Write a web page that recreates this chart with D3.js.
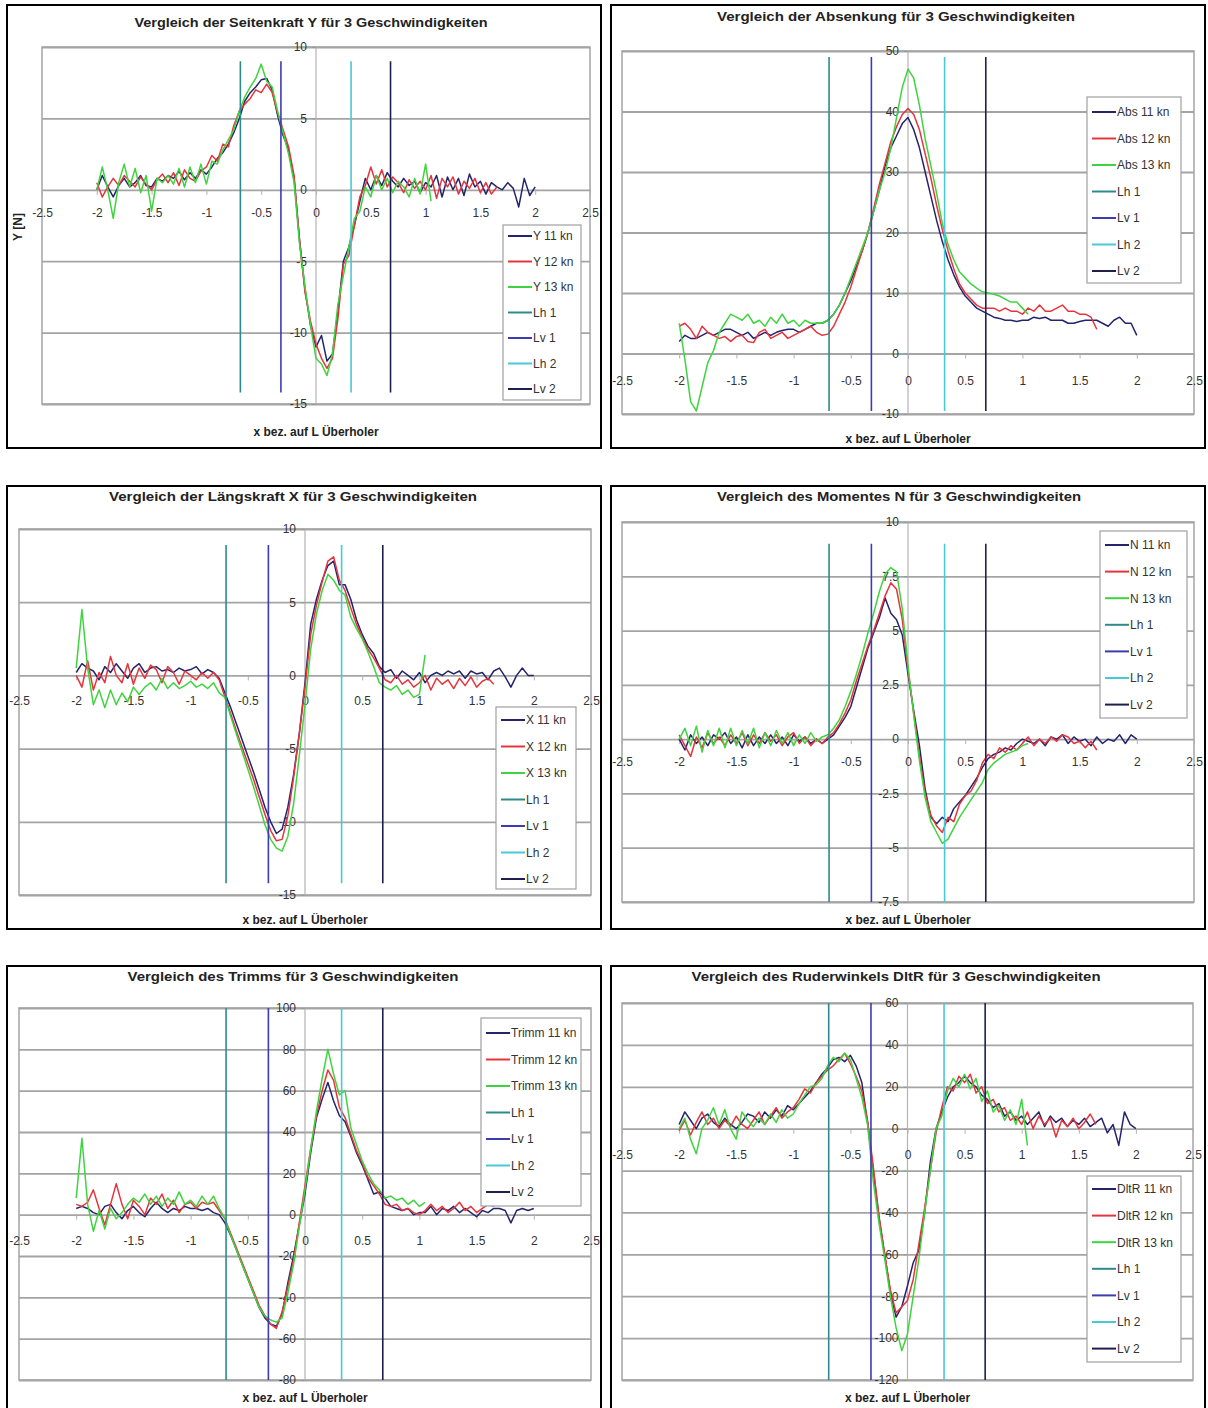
<!DOCTYPE html>
<html>
<head>
<meta charset="utf-8">
<script src="https://cdn.jsdelivr.net/npm/d3@7/dist/d3.min.js"></script>
<style>
  html, body { margin: 0; padding: 0; background: #fff; }
  svg { display: block; }
  text { font-family: "Liberation Sans", Arial, sans-serif; }
</style>
</head>
<body>
<svg id="chart" width="1208" height="1408"></svg>
<script>
// ---- shared x positions (x bez. auf L Überholer) ----
const xGrid = [
  -2.00,-1.95,-1.90,-1.85,-1.80,-1.75,-1.70,-1.65,-1.60,-1.55,
  -1.50,-1.45,-1.40,-1.35,-1.30,-1.25,-1.20,-1.15,-1.10,-1.05,
  -1.00,-0.95,-0.90,-0.85,-0.80,-0.75,-0.70,-0.65,-0.60,-0.55,
  -0.50,-0.45,-0.40,-0.35,-0.30,-0.25,-0.20,-0.15,-0.10,-0.05,
   0.00, 0.05, 0.10, 0.15, 0.20, 0.25, 0.30, 0.35, 0.40, 0.45,
   0.50, 0.55, 0.60, 0.65, 0.70, 0.75, 0.80, 0.85, 0.90, 0.95,
   1.00, 1.05, 1.10, 1.15, 1.20, 1.25, 1.30, 1.35, 1.40, 1.45,
   1.50, 1.55, 1.60, 1.65, 1.70, 1.75, 1.80, 1.85, 1.90, 1.95,
   2.00
];
const xTicks = [-2.5, -2, -1.5, -1, -0.5, 0, 0.5, 1, 1.5, 2, 2.5];

// ---- Seitenkraft Y ----
const seiteY11 = [
  0, 1.0, 0.2, -0.5, 0.3, 0.8, 0.2, 0.5, 1.0, 0.3,
  0.2, 0.8, 0.6, 1.0, 0.8, 1.3, 0.7, 1.2, 0.8, 1.4,
  1.1, 1.6, 2.2, 2.6, 3.2, 4.0, 5.0, 6.2, 6.8, 7.2,
  7.7, 7.8, 7.0, 5.2, 3.8, 2.8, 0.8, -3.5, -7.0, -9.5,
  -11.0, -10.2, -12.0, -11.5, -8.5, -5.0, -4.0, -2.5, -0.8, 0.8,
  0.0, 1.0, 0.3, 1.2, 0.6, 0.2, 0.8, 0.3, 0.6, -0.2,
  0.5, 0.2, 1.0, -0.5, 0.9, 0.0, 0.8, -0.4, 1.1, 0.2,
  0.6, -0.3, 0.5, 0.2, 0.0, 0.5, 0.1, -1.2, 0.8, -0.4,
  0.2
];
const seiteY12 = [
  0.5, -0.5, 0.2, 0.8, 0.3, 1.0, 0.6, 0.2, 0.9, 0.4,
  0.0, 0.7, 1.1, 0.5, 1.2, 0.3, 1.4, 0.8, 0.6, 1.3,
  1.6, 2.4, 2.0, 3.2, 3.0, 4.5, 5.5, 6.0, 6.4, 7.0,
  6.8, 7.4, 6.8, 5.4, 4.2, 3.0, 1.0, -3.6, -7.2, -9.2,
  -10.8, -11.8, -12.5, -11.8, -9.0, -5.2, -4.6, -2.5, -0.5, 0.3,
  1.6, 0.4, 1.4, 0.2, 0.9, 0.5, -0.2, 0.7, 0.1, 0.6,
  0.0, 1.0, -0.6, 0.8, 0.2, 0.9, -0.3, 0.6, 0.1, 0.8,
  -0.2, 0.5, -0.3, 0.2
];
const seiteY13 = [
  0.0, 1.6, 0.0, -2.0, 0.5, 1.8, 0.2, 1.5, -0.2, 1.0,
  -1.5, 0.8, 0.5, 1.0, 0.4, 1.5, 0.2, 1.6, 0.5, 1.8,
  0.4, 2.0, 1.8, 2.8, 3.5, 4.2, 5.5, 6.5, 7.2, 7.8,
  8.8, 7.6, 7.2, 5.5, 4.0, 2.5, 0.5, -3.8, -6.8, -9.5,
  -11.8, -12.2, -13.0, -11.5, -8.0, -6.0, -4.0, -2.0, -1.5, 0.2,
  -0.5, 1.0, 0.0, 0.8, -0.2, 0.6, 0.2, -0.5, 0.8, -0.3,
  1.8, -0.8
];

// ---- Absenkung ----
const absenk11 = [
  2.0, 3.0, 2.5, 2.5, 3.0, 3.5, 3.0, 3.5, 4.0, 4.0,
  3.5, 3.0, 3.5, 2.5, 3.0, 3.5, 3.0, 3.5, 3.8, 4.0,
  4.0, 3.5, 4.0, 4.5, 5.0, 5.0, 5.5, 6.5, 8.0, 10.0,
  12.0, 14.5, 17.0, 20.0, 23.5, 27.0, 31.0, 34.0, 36.0, 38.0,
  39.0, 37.0, 34.0, 30.0, 26.0, 22.0, 18.5, 15.5, 13.0, 11.0,
  9.5, 8.5, 7.5, 7.0, 6.5, 6.0, 5.8, 5.5, 5.5, 5.3,
  5.5, 5.5, 6.0, 5.8, 6.0, 5.5, 5.5, 5.5, 5.0, 5.0,
  5.3, 5.5, 5.5, 5.5, 5.0, 4.5, 5.5, 6.0, 5.0, 5.0,
  3.0
];
const absenk12 = [
  4.5, 5.0, 4.0, 2.5, 4.5, 3.5, 3.0, 2.5, 2.8, 2.0,
  2.8, 3.0, 2.0, 1.8, 3.5, 4.0, 2.5, 3.0, 3.5, 2.5,
  3.0, 3.5, 4.0, 4.5, 3.5, 3.0, 3.2, 4.5, 6.5, 8.5,
  11.0, 14.0, 17.0, 20.0, 24.0, 28.0, 31.5, 35.0, 37.5, 39.5,
  40.5, 39.5, 37.0, 33.0, 29.0, 24.5, 20.5, 17.0, 14.0, 11.5,
  10.0, 9.0, 8.0, 7.5, 7.5, 7.5, 7.0, 7.5, 7.0, 7.0,
  6.5, 7.5, 7.0, 8.0, 7.0, 7.0, 7.5, 8.0, 7.0, 7.0,
  6.5, 6.5, 6.0, 4.0
];
const absenk13 = [
  5.0, -1.0, -8.0, -9.5, -5.5, -1.5, 0.5, 3.5, 5.0, 6.5,
  6.0, 5.5, 6.5, 5.0, 5.5, 4.5, 6.0, 5.0, 6.5, 5.0,
  5.5, 4.5, 5.5, 5.0, 5.0, 5.0, 5.5, 6.5, 8.0, 10.0,
  12.5, 15.0, 17.5, 20.0, 23.5, 27.0, 30.0, 34.0, 39.0, 44.0,
  47.0, 45.5, 41.0, 35.5, 31.0, 26.5, 21.5, 18.0, 15.5, 13.5,
  12.5, 11.5, 10.8, 10.2, 10.0, 9.8, 9.5, 9.0, 8.5, 8.5,
  7.5, 6.5
];

// ---- Längskraft X ----
const laengsX11 = [
  0.2, 0.8, 0.5, 0.3, -0.3, 0.6, 0.2, 0.8, 0.3, -0.2,
  0.5, 0.8, 0.2, 0.5, 0.6, 0.3, 0.4, 0.2, 0.5, 0.3,
  0.4, 0.6, 0.1, 0.4, 0.2, -0.2, -1.2, -2.2, -3.3, -4.4,
  -5.5, -6.6, -7.8, -9.0, -10.0, -10.8, -10.5, -9.0, -6.8, -4.0,
  -0.5, 3.5, 5.2, 6.5, 7.5, 7.8, 6.2, 6.2, 5.2, 3.8,
  2.8, 2.0, 1.5, 0.6, 0.2, 0.4, -0.2, 0.3, 0.0, -0.3,
  0.2, -0.5, 0.0, 0.2, 0.0, 0.3, 0.1, 0.3, -0.2, 0.3,
  0.1, 0.2, -0.3, 0.3, 0.5, -0.1, -0.8, 0.0, 0.5, 0.0,
  0.0
];
const laengsX12 = [
  0.0, -0.8, 1.0, -1.0, 0.2, -0.5, 1.3, 0.0, -0.5, 0.8,
  -0.6, 0.5, -0.2, 0.7, 0.4, -0.5, 0.6, 0.2, -0.6, 0.3,
  0.0, -0.3, 0.2, -0.2, 0.2, -0.3, -1.5, -2.6, -3.8, -4.9,
  -6.0, -7.1, -8.3, -9.5, -10.6, -11.3, -11.2, -9.6, -7.0, -4.0,
  -0.8, 2.8, 4.8, 6.4, 7.8, 8.1, 6.5, 5.8, 4.6, 3.5,
  2.6, 1.8, 1.2, 0.5, -0.3, -0.5, 0.0, -0.6, -0.3, -0.8,
  -0.5, 0.0, -1.0, -0.2, -0.6, -0.3, -0.9, -0.2, -0.7, -0.1,
  -0.8, -0.4, -0.2, -0.6
];
const laengsX13 = [
  0.5, 4.5, 0.5, -2.0, -1.0, -2.2, -1.0, -2.0, -1.2, -1.8,
  -0.8, -1.3, -0.8, -0.5, -1.0, -0.2, -0.9, -0.5, -0.9, -0.7,
  -0.4, -0.8, -0.6, -0.9, -0.5, -1.2, -1.5, -2.8, -4.0, -5.2,
  -6.4, -7.6, -8.9, -10.2, -11.2, -11.8, -12.0, -11.0, -8.8, -5.5,
  -2.0, 1.8, 4.2, 5.8, 6.9, 6.5, 5.8, 5.5, 4.0, 3.2,
  2.5, 1.6, 0.6, -0.5, -0.8, -1.0, -0.7, -1.3, -1.0, -1.5,
  -1.3, 1.4
];

// ---- Moment N ----
const momentN11 = [
  0.0, -0.5, 0.2, -0.2, 0.1, -0.3, 0.2, 0.0, 0.3, -0.2,
  0.1, -0.4, 0.2, -0.3, 0.1, -0.2, 0.2, -0.2, 0.1, -0.3,
  0.2, -0.1, 0.1, -0.2, 0.0, -0.2, 0.0, 0.2, 0.6, 1.0,
  1.5, 2.4, 3.3, 4.2, 4.9, 5.6, 6.5, 5.8, 5.5, 4.8,
  3.0, 1.3, -0.3, -2.3, -3.6, -3.9, -3.6, -3.8, -3.2, -2.9,
  -2.6, -2.2, -1.8, -1.3, -0.9, -0.7, -0.6, -0.4, -0.5, -0.2,
  0.0, -0.1, -0.2, 0.0, -0.3, 0.1, 0.0, 0.2, -0.2, 0.1,
  -0.1, 0.0, -0.3, 0.1, -0.2, 0.0, -0.1, 0.2, -0.2, 0.2,
  0.0
];
const momentN12 = [
  0.2, -0.3, -0.8, 0.1, -0.4, 0.3, -0.2, 0.1, -0.3, 0.2,
  -0.2, 0.3, -0.3, 0.2, -0.2, 0.3, -0.1, 0.2, -0.3, 0.1,
  0.3, -0.2, 0.1, -0.3, 0.0, -0.2, 0.1, 0.3, 0.7, 1.2,
  1.8, 2.7, 3.5, 4.3, 5.0, 5.8, 6.6, 7.2, 6.9, 5.5,
  3.2, 1.2, -0.8, -2.5, -3.5, -4.0, -4.3, -3.6, -3.8, -3.0,
  -2.6, -2.4, -1.9, -1.1, -0.7, -0.9, -0.4, -0.6, -0.3, -0.5,
  -0.2, 0.1, -0.3, 0.0, -0.2, 0.1, -0.1, 0.2, 0.1, -0.2,
  -0.1, -0.4, -0.1, -0.5
];
const momentN13 = [
  0.0, 0.5, -0.3, 0.6, -0.6, 0.4, -0.3, 0.5, -0.4, 0.5,
  -0.3, 0.4, -0.2, 0.5, -0.4, 0.3, -0.3, 0.4, -0.2, 0.3,
  -0.3, 0.2, -0.2, 0.3, -0.1, 0.1, 0.2, 0.5, 0.9, 1.5,
  2.2, 3.0, 3.9, 4.9, 5.8, 6.8, 7.6, 7.9, 7.7, 6.0,
  3.4, 1.1, -1.0, -2.7, -3.8, -4.3, -4.8, -4.6, -4.1, -3.6,
  -3.2, -2.8, -2.4, -2.0, -1.4, -1.1, -0.9, -0.7, -0.6, -0.5,
  -0.3, -0.2
];

// ---- Trimm ----
const trimm11 = [
  3, 4, 3, 1, 0, 4, 5, 1, -2, 2,
  4, 1, -1, 3, 6, 3, 1, 3, 2, 4,
  3, 3, 2, 3, 1, 0, -4, -10, -17, -24,
  -31, -38, -45, -50, -53, -54, -48, -33, -20, -5,
  10, 30, 47, 56, 64, 55, 48, 45, 38, 30,
  24, 17, 10, 11, 8, 4, 3, 2, 3, 0,
  1, 1, 4, 0, 3, 2, 4, 1, 3, 1,
  -1, 2, 1, 3, 3, 2, -4, 2, 3, 2,
  3
];
const trimm12 = [
  5, 4, 6, 12, 3, -5, 5, 15, 5, -2,
  7, 4, 0, 8, 5, 10, 3, 7, 1, 5,
  6, 3, 6, 5, 6, 2, -2, -9, -16, -23,
  -30, -37, -44, -49, -53, -55, -47, -35, -22, -4,
  14, 32, 48, 60, 70, 65, 52, 47, 39, 31,
  25, 18, 14, 10, 5, 4, 5, 2, 3, 1,
  0, 2, 5, 2, 4, 1, 3, 6, 2, 4,
  1, 3, 5, 4
];
const trimm13 = [
  8, 37, 5, -8, 2, -7, 3, -2, 1, 5,
  8, 6, 10, 5, 9, 4, 8, 5, 11, 5,
  7, 4, 9, 5, 9, 3, -2, -10, -17, -24,
  -31, -38, -45, -49, -51, -52, -50, -38, -24, -6,
  12, 32, 50, 66, 80, 68, 58, 60, 42, 34,
  26, 20, 15, 12, 8, 9, 7, 8, 5, 7,
  4, 6
];

// ---- Ruderwinkel DltR ----
const ruder11 = [
  2, 8, 4, 0, 5, 7, 3, 1, 5, 2,
  0, 3, 7, 6, 3, 8, 5, 9, 6, 11,
  9, 12, 15, 18, 22, 26, 29, 33, 34, 32,
  35, 30, 22, 3, -20, -42, -60, -78, -90, -85,
  -75, -64, -58, -40, -16, 0, 8, 15, 20, 22,
  25, 22, 20, 16, 14, 10, 12, 6, 8, 4,
  6, 2, 5, 8, 1, 6, 3, 5, 1, 4,
  2, 5, 1, 3, 5, -2, 2, -8, 8, 2,
  0
];
const ruder12 = [
  -1, 4, -3, 3, 8, 2, 5, 0, 4, 1,
  6, 2, 0, 4, 8, 2, 6, 10, 5, 8,
  10, 14, 19, 17, 22, 25, 28, 30, 33, 36,
  31, 25, 18, 4, -18, -42, -60, -77, -88, -85,
  -82, -72, -55, -38, -20, -2, 10, 20, 18, 25,
  22, 26, 17, 20, 12, 14, 8, 10, 4, 6,
  2, 8, 0, 6, 2, 5, -4, 4, 1, 5,
  0, 3, 7, 2
];
const ruder13 = [
  0, 5, -5, -12, 0, 4, 10, 2, 9, 0,
  -5, 8, 4, 1, 5, 2, 7, 3, 9, 5,
  7, 12, 16, 20, 21, 24, 30, 34, 32, 36,
  33, 24, 15, 2, -25, -45, -62, -80, -95, -106,
  -98, -80, -62, -40, -20, 0, 6, 18, 24, 20,
  26, 19, 24, 13, 18, 8, 11, 4, 9, 2,
  14, -8
];

// ---- reference positions Lh 1, Lv 1, Lh 2, Lv 2 ----
const markerX = [-0.69, -0.32, 0.32, 0.68];
const markerNames = ["Lh 1", "Lv 1", "Lh 2", "Lv 2"];
const markerSpan1 = [-14.2, 9];
const markerSpan2 = [-9.5, 49];
const markerSpan3 = [-14.2, 8.9];
const markerSpan4 = [-7.5, 9];
const markerSpan5 = [-80, 100];
const markerSpan6 = [-120, 60];

// ---- y ticks ----
const yTicks1 = [-15, -10, -5, 0, 5, 10];
const yTicks2 = [-10, 0, 10, 20, 30, 40, 50];
const yTicks3 = [-15, -10, -5, 0, 5, 10];
const yTicks4 = [-7.5, -5, -2.5, 0, 2.5, 5, 7.5, 10];
const yTicks5 = [-80, -60, -40, -20, 0, 20, 40, 60, 80, 100];
const yTicks6 = [-120, -100, -80, -60, -40, -20, 0, 20, 40, 60];

// ---- texts ----
const titles = [
  "Vergleich der Seitenkraft Y für 3 Geschwindigkeiten",
  "Vergleich der Absenkung für 3 Geschwindigkeiten",
  "Vergleich der Längskraft X für 3 Geschwindigkeiten",
  "Vergleich des Momentes N für 3 Geschwindigkeiten",
  "Vergleich des Trimms für 3 Geschwindigkeiten",
  "Vergleich des Ruderwinkels DltR für 3 Geschwindigkeiten"
];
const seriesPrefixes = ["Y", "Abs", "X", "N", "Trimm", "DltR"];
const speeds = ["11 kn", "12 kn", "13 kn"];
const xTitle = "x bez. auf L Überholer";

const seriesColors = ["#24246c", "#e6343c", "#3fd43f"];
const markerColors = ["#2f8b8b", "#3c3cb0", "#49c9d5", "#1f1f4f"];

// ---- panel layout ----
const layouts = [
  { frame: [7, 5, 594, 443], plot: [42, 590, 47, 404], titleY: 22, titleX: 311, titleW: 353,
    legend: [503, 225, 78, 175], legY: 236, legStep: 25.5, xTitleY: 432, xLabGap: 23 },
  { frame: [611, 5, 594, 443], plot: [622, 1194, 51, 414], titleY: 16, titleX: 896, titleW: 358,
    legend: [1087, 97, 94, 186], legY: 112, legStep: 26.5, xTitleY: 439, xLabGap: 27 },
  { frame: [7, 486, 594, 443], plot: [19, 591, 529, 895], titleY: 496, titleX: 293, titleW: 368,
    legend: [496, 707, 80, 182], legY: 720, legStep: 26.5, xTitleY: 920, xLabGap: 25 },
  { frame: [611, 486, 594, 443], plot: [622, 1194, 522, 902], titleY: 496, titleX: 899, titleW: 364,
    legend: [1100, 531, 87, 187], legY: 545, legStep: 26.6, xTitleY: 920, xLabGap: 22 },
  { frame: [7, 966, 594, 446], plot: [19, 591, 1008, 1380], titleY: 976, titleX: 293, titleW: 331,
    legend: [481, 1018, 100, 188], legY: 1033, legStep: 26.5, xTitleY: 1398, xLabGap: 26 },
  { frame: [611, 966, 594, 446], plot: [622, 1193, 1003, 1380], titleY: 976, titleX: 896, titleW: 409,
    legend: [1087, 1176, 94, 186], legY: 1189, legStep: 26.6, xTitleY: 1398, xLabGap: 26 }
];

const panelSeries = [
  [seiteY11, seiteY12, seiteY13],
  [absenk11, absenk12, absenk13],
  [laengsX11, laengsX12, laengsX13],
  [momentN11, momentN12, momentN13],
  [trimm11, trimm12, trimm13],
  [ruder11, ruder12, ruder13]
];
const panelTicks = [yTicks1, yTicks2, yTicks3, yTicks4, yTicks5, yTicks6];
const panelSpans = [markerSpan1, markerSpan2, markerSpan3, markerSpan4, markerSpan5, markerSpan6];

const svg = d3.select("#chart");
const defs = svg.append("defs");
const gridColor = "#a4a4a4";

layouts.forEach((L, p) => {
  const [fx, fy, fw, fh] = L.frame;
  const [left, right, top, bottom] = L.plot;
  const ticks = panelTicks[p];

  defs.append("clipPath").attr("id", "clip" + p)
    .append("rect").attr("x", fx).attr("y", fy).attr("width", fw).attr("height", fh);

  const g = svg.append("g").attr("clip-path", `url(#clip${p})`);

  const x = d3.scaleLinear().domain([-2.5, 2.5]).range([left, right]);
  const y = d3.scaleLinear().domain([ticks[0], ticks[ticks.length - 1]]).range([bottom, top]);

  // plot area border
  g.append("rect").attr("x", left).attr("y", top)
    .attr("width", right - left).attr("height", bottom - top)
    .attr("fill", "#fff").attr("stroke", gridColor).attr("stroke-width", 1.5);

  // horizontal gridlines
  const grid = g.append("g").attr("transform", `translate(${left},0)`)
    .call(d3.axisLeft(y).tickValues(ticks).tickSize(-(right - left)).tickFormat(""));
  grid.select(".domain").remove();
  grid.selectAll("line").attr("stroke", gridColor).attr("stroke-width", 1.8);

  // vertical axis through x = 0
  g.append("line").attr("x1", x(0)).attr("x2", x(0)).attr("y1", top).attr("y2", bottom)
    .attr("stroke", "#b4b4b4").attr("stroke-width", 1.2);

  // y labels beside the vertical axis
  const yAx = g.append("g").attr("transform", `translate(${x(0)},0)`)
    .call(d3.axisLeft(y).tickValues(ticks).tickSize(4).tickPadding(5).tickFormat(d => String(d)));
  yAx.select(".domain").remove();
  yAx.selectAll("line").attr("stroke", "#999");
  yAx.selectAll("text").attr("fill", "#333").style("font-size", "12px");

  // x axis on the zero line
  const xAx = g.append("g").attr("transform", `translate(0,${y(0)})`)
    .call(d3.axisBottom(x).tickValues(xTicks).tickSize(5).tickPadding(L.xLabGap - 9)
      .tickFormat(d => String(d)));
  xAx.select(".domain").remove();
  xAx.selectAll("line").attr("stroke", "#b0b0b0");
  xAx.selectAll("text").attr("fill", "#333").style("font-size", "12px");

  // measured curves
  const line = d3.line().x(d => x(d[0])).y(d => y(d[1]));
  panelSeries[p].forEach((vals, s) => {
    const pts = vals.map((v, i) => [xGrid[i], v]);
    g.append("path").datum(pts).attr("d", line)
      .attr("fill", "none").attr("stroke", seriesColors[s])
      .attr("stroke-width", 1.5).attr("stroke-linejoin", "round");
  });

  // reference lines Lh / Lv
  const span = panelSpans[p];
  markerX.forEach((mx, m) => {
    g.append("path").datum([[mx, span[0]], [mx, span[1]]]).attr("d", line)
      .attr("fill", "none").attr("stroke", markerColors[m]).attr("stroke-width", 1.6);
  });

  // title
  g.append("text").attr("x", L.titleX).attr("y", L.titleY).attr("dy", "0.36em")
    .attr("text-anchor", "middle").attr("font-weight", "bold").style("font-size", "13px")
    .attr("fill", "#222")
    .attr("textLength", L.titleW).attr("lengthAdjust", "spacingAndGlyphs")
    .text(titles[p]);

  // x axis title
  g.append("text").attr("x", x(0)).attr("y", L.xTitleY).attr("dy", "0.36em")
    .attr("text-anchor", "middle").attr("font-weight", "bold").style("font-size", "12px")
    .attr("fill", "#222").text(xTitle);

  // y axis title (only on the side force chart)
  if (p === 0) {
    g.append("text").attr("transform", `translate(18,227) rotate(-90)`).attr("dy", "0.36em")
      .attr("text-anchor", "middle").attr("font-weight", "bold").style("font-size", "12px")
      .attr("fill", "#222").text("Y [N]");
  }

  // legend
  const [lx, ly, lw, lh] = L.legend;
  const lg = g.append("g");
  lg.append("rect").attr("x", lx).attr("y", ly).attr("width", lw).attr("height", lh)
    .attr("fill", "#fff").attr("stroke", "#a0a0a0").attr("stroke-width", 1.2);
  const entries = speeds.map((sp, i) => ({ label: `${seriesPrefixes[p]} ${sp}`, color: seriesColors[i] }))
    .concat(markerNames.map((n, i) => ({ label: n, color: markerColors[i] })));
  entries.forEach((e, i) => {
    const ey = L.legY + i * L.legStep;
    lg.append("line").attr("x1", lx + 5).attr("x2", lx + 29).attr("y1", ey).attr("y2", ey)
      .attr("stroke", e.color).attr("stroke-width", 2);
    lg.append("text").attr("x", lx + 30).attr("y", ey).attr("dy", "0.36em")
      .style("font-size", "12px").attr("fill", "#333").text(e.label);
  });

  // panel frame
  svg.append("rect").attr("x", fx).attr("y", fy).attr("width", fw).attr("height", fh)
    .attr("fill", "none").attr("stroke", "#000").attr("stroke-width", 2);
});
</script>
</body>
</html>
